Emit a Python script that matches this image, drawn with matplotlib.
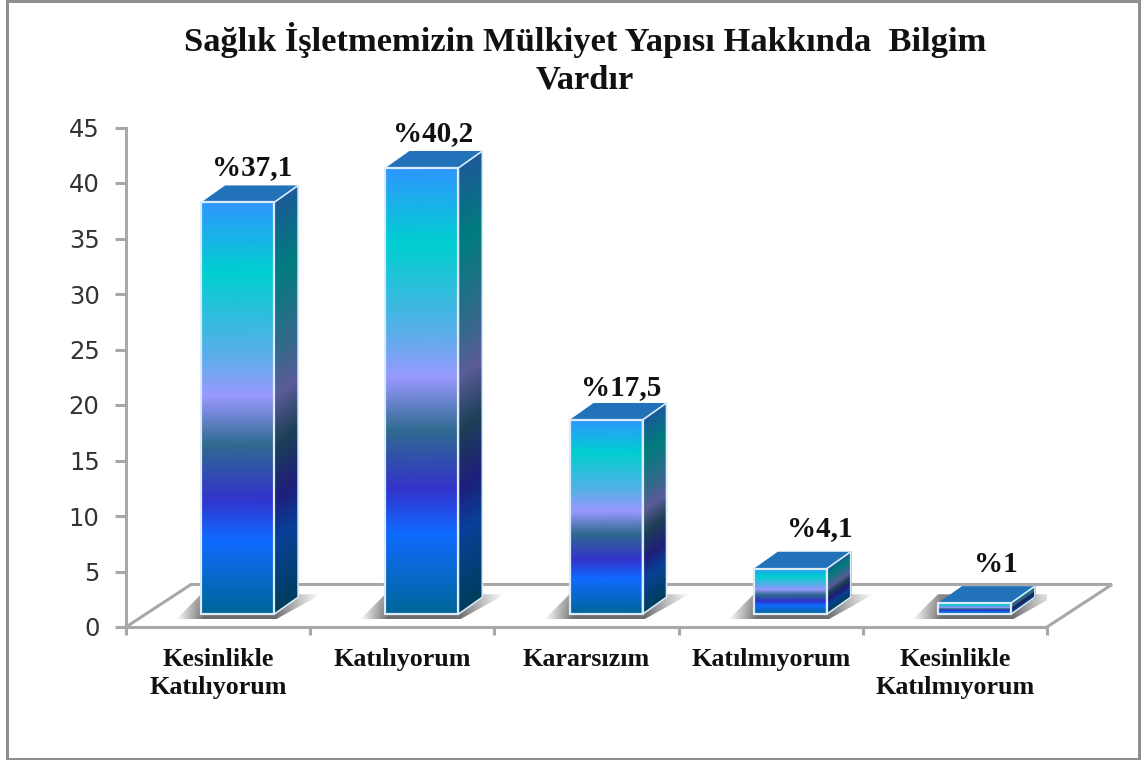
"""
3d looking bar chart, mulkiyet yapisi survey answers
"""
from matplotlib import pyplot as plt
from matplotlib.colors import LinearSegmentedColormap, to_rgb
from matplotlib.patches import Polygon, Rectangle
import numpy as np

title = 'Sağlık İşletmemizin Mülkiyet Yapısı Hakkında  Bilgim\nVardır'
categories = ['Kesinlikle\nKatılıyorum', 'Katılıyorum', 'Kararsızım',
              'Katılmıyorum', 'Kesinlikle\nKatılmıyorum']
values = [37.1, 40.2, 17.5, 4.1, 1]
bar_labels = ['%37,1', '%40,2', '%17,5', '%4,1', '%1']
yticks = [0, 5, 10, 15, 20, 25, 30, 35, 40, 45]

W, H = 1145, 760
ax_l, ax_r, ax_t, ax_b = 126, 1047, 127.5, 627
px_x = 5. / (ax_r - ax_l)    # data units per pixel
px_y = 45. / (ax_b - ax_t)

# gradient stops, top of bar is 0
stops = [(0., '#2F96FF'), (0.17, '#00CFD0'), (0.37, '#5AAEE8'), (0.47, '#9999FF'),
         (0.59, '#2F6A90'), (0.72, '#3333CC'), (0.82, '#0F6AFF'), (1., '#006699')]
front_cmap = LinearSegmentedColormap.from_list('front', stops, N=512)
side_stops = [(p, tuple(0.6 * c for c in to_rgb(col))) for p, col in stops]
side_cmap = LinearSegmentedColormap.from_list('side', side_stops, N=512)

line_col = '#A8A8A8'
edge_col = '#DCEBFA'
top_col = '#2272B9'

plt.rcParams['font.family'] = ['Liberation Serif', 'DejaVu Serif']

fig = plt.figure(figsize=(W / 100., H / 100.), dpi=100)
ax = fig.add_axes([ax_l / W, 1 - ax_b / H, (ax_r - ax_l) / W, (ax_b - ax_t) / H])
ax.patch.set_alpha(0)

# outer frame
for r in [(6, 0, 2.5, H), (1138, 0, 2.5, H), (6, 758, 1134, 2), (6, 0, 1134, 2.5)]:
    fig.add_artist(Rectangle((r[0] / W, 1 - (r[1] + r[3]) / H), r[2] / W, r[3] / H,
                             transform=fig.transFigure, color='#8E8E8E', lw=0))

# floor
floor_dx, floor_dy = 65 * px_x, 42.5 * px_y
ax.plot([0, floor_dx, 5 + floor_dx, 5], [0, floor_dy, floor_dy, 0],
        color=line_col, lw=2.2, clip_on=False, zorder=1, solid_joinstyle='miter')

bar_w = 73 * px_x
bar_off = 0.106
base = 1.15
dep_x, dep_y = 24 * px_x, 17 * px_y
label_dx = [14, 11, 15, 30, 21]   # pixels, right of bar centre
label_dy = [35, 34, 32, 40, 39]   # pixels, above bar top


def shear_mesh(ax, x0, x1, y0, y1, shear, cmap, zorder):
    # vertical gradient on a face, top of the face is t=0
    t = np.linspace(0, 1, 200)
    xx = np.array([[x0, x1]] * len(t))
    yy = np.array([[y1 - (y1 - y0) * s, y1 - (y1 - y0) * s + shear] for s in t])
    cc = np.array([[s, s] for s in t])
    ax.pcolormesh(xx, yy, cc, cmap=cmap, vmin=0, vmax=1, shading='gouraud',
                  zorder=zorder, rasterized=True)


for i, val in enumerate(values):
    x0 = i + 0.5 + bar_off - bar_w / 2.
    x1 = x0 + bar_w
    top = base + val

    # soft shadow on the floor, strongest along the bottom of the bar
    sx0, sx1 = x0 - 25 * px_x, x1 + 47 * px_x
    sy0, sy1 = base - 5 * px_y, base + 20 * px_y
    u = np.linspace(sx0, sx1, 300)
    v = np.linspace(0, 1, 60)
    left = np.clip((u - sx0) / (28 * px_x), 0, 1)
    right = np.clip((sx1 - u) / (45 * px_x), 0, 1)
    img = np.zeros((60, 300, 4))
    img[..., :3] = 0.36
    img[..., 3] = 0.9 * np.outer(1 - 0.2 * v, np.minimum(left, right))
    shadow = Polygon([(sx0, sy0), (x1 + 2 * px_x, sy0), (sx1, sy1), (x0, sy1)],
                     transform=ax.transData, fc='none', ec='none')
    ax.add_patch(shadow)
    im = ax.imshow(img, extent=(sx0, sx1, sy0, sy1), aspect='auto', origin='lower',
                   interpolation='bilinear', zorder=2)
    im.set_clip_path(shadow)

    shear_mesh(ax, x0, x1, base, top, 0, front_cmap, 3)
    shear_mesh(ax, x1, x1 + dep_x, base, top, dep_y, side_cmap, 3)
    ax.add_patch(Polygon([(x0, top), (x1, top), (x1 + dep_x, top + dep_y), (x0 + dep_x, top + dep_y)],
                         fc=top_col, ec='none', zorder=3))
    ax.add_patch(Polygon([(x0, base), (x1, base), (x1, top), (x0, top)],
                         fc='none', ec=edge_col, lw=1.6, zorder=4))
    ax.add_patch(Polygon([(x1, base), (x1 + dep_x, base + dep_y), (x1 + dep_x, top + dep_y), (x1, top)],
                         fc='none', ec=edge_col, lw=1.2, zorder=4))

    ax.text(i + 0.5 + bar_off + label_dx[i] * px_x, top + label_dy[i] * px_y, bar_labels[i],
            ha='center', va='center', fontsize=21, fontweight='bold', color='#111111',
            zorder=5)

ax.set_xlim(0, 5)
ax.set_ylim(0, 45)
ax.set_yticks(yticks)
ax.set_yticklabels([str(v) for v in yticks], family='DejaVu Sans', fontsize=17.5, color='#333333')
ax.set_xticks(range(6))
ax.set_xticklabels([])
ax.set_xticks(np.arange(5) + 0.5, minor=True)
ax.set_xticklabels(categories, minor=True, fontsize=18.7, fontweight='bold', color='#111111',
                   linespacing=1.3)
ax.tick_params(axis='y', length=8, width=2.2, color=line_col, pad=11)
ax.tick_params(axis='x', which='major', length=6, width=2.2, color=line_col)
ax.tick_params(axis='x', which='minor', length=0, pad=15)
for s in ['top', 'right']:
    ax.spines[s].set_visible(False)
for s in ['left', 'bottom']:
    ax.spines[s].set_color(line_col)
    ax.spines[s].set_linewidth(2.2)

fig.text(585. / W, 1 - 59. / H, title, ha='center', va='center', fontsize=24.8, fontweight='bold',
         color='#111111', linespacing=1.25)

fig.savefig('out.png', dpi=100)
